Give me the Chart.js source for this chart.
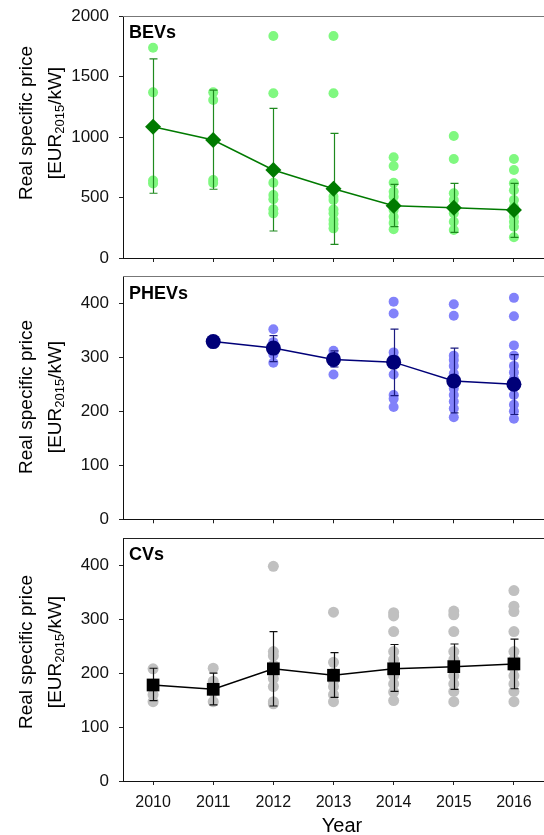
<!DOCTYPE html>
<html><head><meta charset="utf-8">
<script src="https://cdn.jsdelivr.net/npm/chart.js@4.4.0/dist/chart.umd.min.js"></script>
<style>
html,body{margin:0;padding:0;background:#fff;}
#wrap{position:relative;width:544px;height:835px;overflow:hidden;background:#fff;}
canvas{position:absolute;left:0;}
</style></head><body>
<div id="wrap">
<canvas id="c1" width="544" height="300" style="top:0px"></canvas>
<canvas id="c2" width="544" height="300" style="top:262px"></canvas>
<canvas id="c3" width="544" height="311" style="top:524px"></canvas>
</div>
<script>
// ---------- data ----------
const years = [2010, 2011, 2012, 2013, 2014, 2015, 2016];

const bevTicks = [0, 500, 1000, 1500, 2000];
const bevPoints = [
  [1738, 1369, 640, 615],
  [1369, 1306, 645, 620],
  [1835, 1361, 622, 520, 485, 402, 369],
  [1835, 1361, 507, 479, 400, 369, 314, 280, 245],
  [832, 760, 622, 548, 507, 450, 397, 340, 290, 237],
  [1008, 818, 535, 479, 420, 369, 300, 231],
  [818, 727, 617, 560, 479, 424, 380, 341, 300, 259, 171]
];
const bevMean = [1085, 975, 727, 573, 432, 416, 397];
const bevHigh = [1645, 1388, 1237, 1030, 609, 617, 617];
const bevLow  = [535, 568, 223, 113, 259, 212, 171];

const phevTicks = [0, 100, 200, 300, 400];
const phevPoints = [
  [],
  [332, 326],
  [352, 328, 318, 305, 290],
  [312, 305, 298, 290, 268],
  [403, 381, 309, 300, 291, 268, 230, 223, 208],
  [398, 377, 303, 295, 284, 270, 255, 242, 230, 218, 205, 189],
  [410, 376, 322, 303, 284, 272, 260, 245, 230, 212, 200, 186]
];
const phevMean = [null, 329, 317, 296, 291, 256, 250];
const phevHigh = [null, 333, 340, 312, 352, 317, 305];
const phevLow  = [null, 325, 292, 282, 229, 197, 194];

const cvTicks = [0, 100, 200, 300, 400];
const cvPoints = [
  [208, 178, 160, 147],
  [209, 185, 165, 147],
  [398, 240, 232, 215, 200, 190, 175, 147, 143],
  [313, 220, 200, 185, 175, 160, 147],
  [312, 306, 277, 240, 225, 210, 195, 180, 165, 149],
  [315, 308, 277, 240, 225, 210, 195, 180, 166, 147],
  [353, 324, 314, 277, 240, 225, 210, 195, 180, 166, 147]
];
const cvMean = [178, 170, 208, 196, 208, 212, 217];
const cvHigh = [209, 200, 277, 238, 253, 254, 263];
const cvLow  = [149, 141, 139, 155, 166, 170, 171];

// ---------- drawing ----------
const FONT = '"Liberation Sans", Arial, sans-serif';

function makePanel(cfg) {
  const canvas = document.getElementById(cfg.id);
  const H = canvas.height;
  const dots = [];
  years.forEach((yr, i) => cfg.points[i].forEach(v => dots.push({x: yr, y: v})));
  const means = [];
  years.forEach((yr, i) => { if (cfg.mean[i] !== null) means.push({x: yr, y: cfg.mean[i]}); });
  const state = { xh: H - (cfg.areaBottom - cfg.top), pt: cfg.areaTop - cfg.top };

  const panelPlugin = {
    id: 'panel_' + cfg.id,
    afterDatasetDraw(chart, args) {
      if (args.index !== 1) return;
      const ctx = chart.ctx, xs = chart.scales.x, ys = chart.scales.y;
      ctx.save();
      ctx.strokeStyle = cfg.errColor;
      ctx.lineWidth = 1.2;
      years.forEach((yr, i) => {
        if (cfg.high[i] === null) return;
        const px = Math.round(xs.getPixelForValue(yr)) + 0.5;
        const pt = ys.getPixelForValue(cfg.high[i]);
        const pb = ys.getPixelForValue(cfg.low[i]);
        ctx.beginPath();
        ctx.moveTo(px, pt); ctx.lineTo(px, pb);
        ctx.moveTo(px - 4, pt); ctx.lineTo(px + 4, pt);
        ctx.moveTo(px - 4, pb); ctx.lineTo(px + 4, pb);
        ctx.stroke();
      });
      ctx.restore();
    },
    afterDraw(chart) {
      const ctx = chart.ctx, a = chart.chartArea;
      ctx.save();
      // top frame line
      ctx.strokeStyle = cfg.topColor;
      ctx.lineWidth = 1;
      ctx.beginPath();
      ctx.moveTo(a.left, Math.round(a.top) + 0.5);
      ctx.lineTo(a.right, Math.round(a.top) + 0.5);
      ctx.stroke();
      // panel label
      ctx.fillStyle = '#000';
      ctx.font = 'bold 18px ' + FONT;
      ctx.textBaseline = 'alphabetic';
      ctx.textAlign = 'left';
      ctx.fillText(cfg.label, 129, cfg.labelBase - cfg.top);
      // y title
      const cy = cfg.titleY - cfg.top;
      ctx.save();
      ctx.translate(32, cy);
      ctx.rotate(-Math.PI / 2);
      ctx.font = '19px ' + FONT;
      ctx.textAlign = 'center';
      ctx.fillText('Real specific price', 0, 0);
      ctx.restore();
      ctx.save();
      ctx.translate(60.5, cy);
      ctx.rotate(-Math.PI / 2);
      ctx.textAlign = 'left';
      const big = '19px ' + FONT, small = '13px ' + FONT;
      ctx.font = big; const w1 = ctx.measureText('[EUR').width;
      ctx.font = small; const w2 = ctx.measureText('2015').width;
      ctx.font = big; const w3 = ctx.measureText('/kW]').width;
      let x0 = -(w1 + w2 + w3) / 2;
      ctx.font = big; ctx.fillText('[EUR', x0, 0);
      ctx.font = small; ctx.fillText('2015', x0 + w1, 3);
      ctx.font = big; ctx.fillText('/kW]', x0 + w1 + w2, 0);
      ctx.restore();
      if (cfg.bottom) {
        ctx.font = '20px ' + FONT;
        ctx.textAlign = 'center';
        ctx.textBaseline = 'middle';
        ctx.fillText('Year', 342, 826.5 - cfg.top);
      }
      ctx.restore();
    }
  };

  const chart = new Chart(canvas, {
    type: 'scatter',
    data: {
      datasets: [
        {
          type: 'line',
          data: means,
          borderColor: cfg.meanColor,
          backgroundColor: cfg.meanColor,
          borderWidth: 1.5,
          pointStyle: cfg.meanStyle,
          pointRadius: cfg.meanRadius,
          pointBorderWidth: 0,
          pointBackgroundColor: cfg.meanColor,
          showLine: true,
          fill: false,
          tension: 0,
          clip: false
        },
        {
          data: dots,
          pointStyle: 'circle',
          pointRadius: cfg.dotRadius,
          pointBorderWidth: 0,
          pointBackgroundColor: cfg.dotColor,
          backgroundColor: cfg.dotColor,
          borderColor: cfg.dotColor,
          clip: false
        }
      ]
    },
    options: {
      responsive: false,
      animation: false,
      devicePixelRatio: 1,
      layout: { autoPadding: false, padding: { top: state.pt, left: 0, right: 0, bottom: 0 } },
      plugins: { legend: { display: false }, tooltip: { enabled: false } },
      scales: {
        x: {
          type: 'linear',
          min: 2009.5, max: 2016.5,
          afterBuildTicks: s => { s.ticks = years.map(v => ({value: v})); },
          afterFit: s => { s.height = state.xh; },
          grid: { drawOnChartArea: false, drawTicks: true, tickLength: 4, color: '#222', lineWidth: 1 },
          border: { display: true, color: '#111', width: 1 },
          ticks: {
            padding: 8,
            color: '#111',
            font: { family: FONT, size: 16 },
            maxRotation: 0,
            autoSkip: false,
            callback: v => cfg.bottom ? String(v) : ''
          }
        },
        y: {
          type: 'linear',
          min: 0, max: cfg.ymax,
          afterBuildTicks: s => { s.ticks = cfg.ticks.map(v => ({value: v})); },
          afterFit: s => { s.width = 123; },
          grid: { drawOnChartArea: false, drawTicks: true, tickLength: 4, color: '#222', lineWidth: 1 },
          border: { display: true, color: '#111', width: 1 },
          ticks: {
            padding: 10,
            color: '#111',
            font: { family: FONT, size: 17, lineHeight: 0.5 },
            callback: v => String(v)
          }
        }
      }
    },
    plugins: [panelPlugin]
  });

  // fine correction so the plot area lands where the reference has it
  for (let k = 0; k < 3; k++) {
    const a = chart.chartArea;
    const dTop = (cfg.areaTop - cfg.top) - a.top;
    const dBot = a.bottom - (cfg.areaBottom - cfg.top);
    if (Math.abs(dTop) < 0.3 && Math.abs(dBot) < 0.3) break;
    state.pt = Math.max(0, state.pt + dTop);
    state.xh = Math.max(0, state.xh + dBot);
    chart.options.layout.padding.top = state.pt;
    chart.update('none');
  }
  return chart;
}

makePanel({
  id: 'c1', top: 0, areaTop: 16, areaBottom: 258, ymax: 2000, ticks: bevTicks,
  points: bevPoints, mean: bevMean, high: bevHigh, low: bevLow,
  meanColor: '#007a00', errColor: '#1f8a1f', dotColor: '#80f880', meanStyle: 'rectRot', meanRadius: 8, dotRadius: 5,
  label: 'BEVs', labelBase: 38, titleY: 123, topColor: '#777', bottom: false
});
makePanel({
  id: 'c2', top: 262, areaTop: 275.7, areaBottom: 519.3, ymax: 450, ticks: phevTicks,
  points: phevPoints, mean: phevMean, high: phevHigh, low: phevLow,
  meanColor: '#000078', errColor: '#1a1a80', dotColor: '#8282fa', meanStyle: 'circle', meanRadius: 7.5, dotRadius: 5,
  label: 'PHEVs', labelBase: 298.5, titleY: 397, topColor: '#777', bottom: false
});
makePanel({
  id: 'c3', top: 524, areaTop: 537.3, areaBottom: 781, ymax: 450, ticks: cvTicks,
  points: cvPoints, mean: cvMean, high: cvHigh, low: cvLow,
  meanColor: '#000000', errColor: '#111111', dotColor: '#c0c0c0', meanStyle: 'rect', meanRadius: 9, dotRadius: 5.5,
  label: 'CVs', labelBase: 560, titleY: 652, topColor: '#222', bottom: true
});
</script>
</body></html>
